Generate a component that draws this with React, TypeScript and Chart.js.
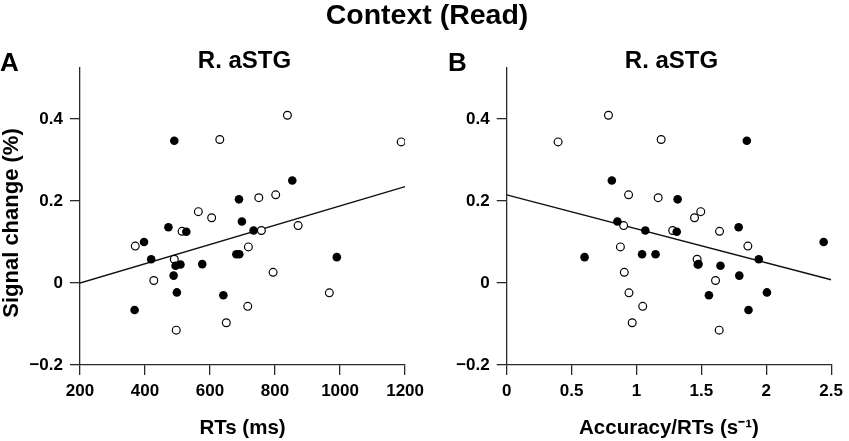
import React, { useEffect, useRef } from 'react';
import { Chart, registerables } from 'chart.js';
Chart.register(...registerables);

const FONT = '"Liberation Sans", Arial, Helvetica, sans-serif';

// filled circles: RT (ms), accuracy/RT (1/s), signal change (%)
const rtsFilled = [368, 397, 419, 472, 488, 490, 494, 498, 509, 527, 576, 641, 681, 690, 689, 698, 734, 853, 990];
const accFilled = [1.863, 2.442, 1.942, 1.787, 1.792, 1.85, 1.647, 2.005, 1.472, 1.31, 1.478, 1.558, 1.147, 1.043, 1.317, 0.853, 1.068, 0.81, 0.6];
const signalFilled = [-0.066, 0.1, 0.058, 0.136, 0.018, 0.347, 0.042, -0.023, 0.045, 0.125, 0.046, -0.03, 0.07, 0.07, 0.204, 0.15, 0.128, 0.25, 0.063];

// open circles
const rtsOpen = [370, 427, 490, 496, 514, 564, 605, 630, 650, 716, 718, 750, 758, 794, 802, 838, 871, 967, 1188];
const accOpen = [1.858, 1.609, 1.467, 1.637, 1.64, 1.495, 1.447, 1.19, 0.967, 1.048, 0.876, 1.167, 1.279, 0.906, 0.939, 0.784, 0.901, 0.942, 0.396];
const signalOpen = [0.09, 0.006, 0.058, -0.115, 0.126, 0.174, 0.159, 0.35, -0.097, -0.057, 0.088, 0.208, 0.128, 0.026, 0.215, 0.409, 0.14, -0.024, 0.344];

// fitted lines (end points)
const rtsFitX = [200, 1200];
const rtsFitY = [0.0, 0.235];
const accFitX = [0, 2.5];
const accFitY = [0.215, 0.008];

const signalTicks = [-0.2, 0, 0.2, 0.4];
const rtsTicks = [200, 400, 600, 800, 1000, 1200];
const accTicks = [0, 0.5, 1, 1.5, 2, 2.5];

const pts = (xs: number[], ys: number[]) => xs.map((x, i) => ({ x, y: ys[i] }));
const fmt = (v: number) => String(v).replace('-', '\u2212');

interface PanelProps {
  left: number;
  width: number;
  axisLeft: number;
  axisRight: number;
  xFilled: number[];
  xOpen: number[];
  fitX: number[];
  fitY: number[];
  xTicks: number[];
  xTitle: string;
}

const Panel = (p: PanelProps) => {
  const canvasRef = useRef<HTMLCanvasElement | null>(null);

  useEffect(() => {
    if (!canvasRef.current) return;
    const axisColor = '#2a2a2a';
    const chart = new Chart(canvasRef.current, {
      type: 'scatter',
      data: {
        datasets: [
          {
            data: pts(p.xFilled, signalFilled),
            pointRadius: 4.3,
            pointBorderWidth: 0,
            pointBackgroundColor: '#000',
            pointBorderColor: '#000',
            order: 1,
          },
          {
            data: pts(p.xOpen, signalOpen),
            pointRadius: 3.9,
            pointBorderWidth: 1.2,
            pointBackgroundColor: '#fff',
            pointBorderColor: '#000',
            order: 2,
          },
          {
            data: pts(p.fitX, p.fitY),
            showLine: true,
            borderColor: '#111',
            borderWidth: 1.4,
            pointRadius: 0,
            order: 3,
          },
        ],
      },
      options: {
        responsive: false,
        animation: false,
        layout: { padding: { left: 0, right: p.width - p.axisRight, top: 67.7, bottom: 0 } },
        plugins: { legend: { display: false }, tooltip: { enabled: false } },
        scales: {
          x: {
            type: 'linear',
            min: p.xTicks[0],
            max: p.xTicks[p.xTicks.length - 1],
            afterBuildTicks: (s: any) => { s.ticks = p.xTicks.map((v) => ({ value: v })); },
            afterFit: (s: any) => { s.height = 76; },
            grid: { drawOnChartArea: false, drawTicks: true, tickLength: 10, color: axisColor, lineWidth: 1.3 },
            border: { display: true, color: axisColor, width: 1.3 },
            ticks: { color: '#000', padding: 6, font: { family: FONT, size: 17, weight: 'bold' }, callback: (v: any) => fmt(v), maxRotation: 0 },
            title: { display: true, text: p.xTitle, color: '#000', padding: { top: 5, bottom: 0 }, font: { family: FONT, size: 20.5, weight: 'bold' } },
          },
          y: {
            type: 'linear',
            min: -0.2,
            max: 0.525,
            afterBuildTicks: (s: any) => { s.ticks = signalTicks.map((v) => ({ value: v })); },
            afterFit: (s: any) => { s.width = p.axisLeft; },
            grid: { drawOnChartArea: false, drawTicks: true, tickLength: 10, color: axisColor, lineWidth: 1.3 },
            border: { display: true, color: axisColor, width: 1.3 },
            ticks: { color: '#000', padding: 7, font: { family: FONT, size: 17, weight: 'bold' }, callback: (v: any) => fmt(v) },
          },
        },
      },
    } as any);
    return () => chart.destroy();
  }, []);

  return (
    <div style={{ position: 'absolute', left: p.left, top: 0, width: p.width, height: 441 }}>
      <canvas ref={canvasRef} width={p.width} height={441} style={{ display: 'block' }} />
    </div>
  );
};

// text placed by its baseline
const Txt = ({ x, base, size, center, children }: { x: number; base: number; size: number; center?: boolean; children: React.ReactNode }) => (
  <div
    style={{
      position: 'absolute',
      left: x,
      top: base - 0.8465 * size,
      fontFamily: FONT,
      fontWeight: 'bold',
      fontSize: size,
      lineHeight: 1,
      whiteSpace: 'nowrap',
      color: '#000',
      transform: center ? 'translateX(-50%)' : undefined,
    }}
  >
    {children}
  </div>
);

const App = () => (
  <div style={{ position: 'fixed', left: 0, top: 0, width: 849, height: 441, background: '#fff', overflow: 'hidden' }}>
    <Panel left={0} width={430} axisLeft={80} axisRight={409} xFilled={rtsFilled} xOpen={rtsOpen}
      fitX={rtsFitX} fitY={rtsFitY} xTicks={rtsTicks} xTitle="RTs (ms)" />
    <Panel left={430} width={419} axisLeft={76.7} axisRight={405.3} xFilled={accFilled} xOpen={accOpen}
      fitX={accFitX} fitY={accFitY} xTicks={accTicks} xTitle="Accuracy/RTs (s⁻¹)" />
    <div
      style={{
        position: 'absolute', left: 11, top: 223, fontFamily: FONT, fontWeight: 'bold', fontSize: 22,
        lineHeight: 1, whiteSpace: 'nowrap', color: '#000', transform: 'translate(-50%, -50%) rotate(-90deg)',
      }}
    >
      Signal change (%)
    </div>
    <Txt x={427} base={24} size={28.5} center>Context (Read)</Txt>
    <Txt x={0} base={71} size={26}>A</Txt>
    <Txt x={448} base={71} size={26}>B</Txt>
    <Txt x={244.5} base={68.5} size={24} center>R. aSTG</Txt>
    <Txt x={671.5} base={68.5} size={24} center>R. aSTG</Txt>
  </div>
);

export default App;
